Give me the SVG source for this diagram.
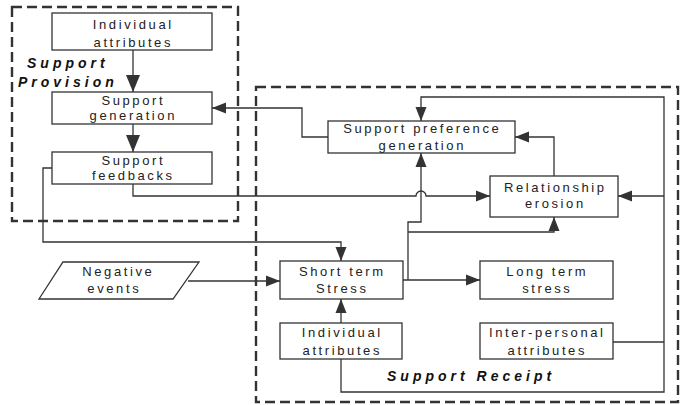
<svg xmlns="http://www.w3.org/2000/svg" width="681" height="405" viewBox="0 0 681 405">
<style>
.bg{fill:#fff}
.box{fill:#fff;stroke:#333;stroke-width:1.3}
.dash{fill:none;stroke:#333;stroke-width:2.4;stroke-dasharray:10 5}
.c{fill:none;stroke:#333;stroke-width:1.3}
.t{font-family:"Liberation Sans",Arial,sans-serif;font-size:13px;letter-spacing:2.6px;fill:#222;text-anchor:middle}
.lbl{font-family:"Liberation Sans",Arial,sans-serif;font-size:14px;font-weight:bold;font-style:italic;letter-spacing:4px;fill:#111}
</style>
<defs>
<marker id="a" markerUnits="userSpaceOnUse" markerWidth="14" markerHeight="12" refX="14" refY="6" orient="auto"><path d="M0,0.5 L14,6 L0,11.5 z" fill="#333"/></marker>
<marker id="b" markerUnits="userSpaceOnUse" markerWidth="17" markerHeight="14" refX="17" refY="7" orient="auto"><path d="M0,0 L17,7 L0,14 z" fill="#333"/></marker>
</defs>
<rect class="bg" x="0" y="0" width="681" height="405"/>
<g id="groups">
<rect class="dash" x="12" y="7" width="226" height="214"/>
<rect class="dash" x="256" y="87" width="422" height="315"/>
<text class="lbl" x="27" y="68">Support</text>
<text class="lbl" x="18" y="87">Provision</text>
<text class="lbl" x="387" y="381">Support Receipt</text>
</g>
<g id="connectors">
<path class="c" d="M133,50 V92" marker-end="url(#b)"/>
<path class="c" d="M133,124 V152" marker-end="url(#b)"/>
<path class="c" d="M328,137 H302 V108 H212" marker-end="url(#a)"/>
<path class="c" d="M52,168 H43 V242 H341 V261" marker-end="url(#a)"/>
<path class="c" d="M133,184 V196 H416 A5,5 0 0 1 426,196 H490" marker-end="url(#a)"/>
<path class="c" d="M341,359 V392 H664 V97 H421 V121" marker-end="url(#a)"/>
<path class="c" d="M613,342 H664"/>
<path class="c" d="M664,196 H618" marker-end="url(#a)"/>
<path class="c" d="M554,176 V137 H515" marker-end="url(#a)"/>
<path class="c" d="M188,281 H280" marker-end="url(#a)"/>
<path class="c" d="M403,280 H480" marker-end="url(#a)"/>
<path class="c" d="M408,280 V222 H421 V153" marker-end="url(#a)"/>
<path class="c" d="M408,232 H554 V217" marker-end="url(#a)"/>
<path class="c" d="M341,323 V299" marker-end="url(#a)"/>
</g>
<g id="n-indiv-top">
<rect class="box" x="52" y="13" width="160" height="37"/>
<text class="t" x="133.3" y="29">Individual</text>
<text class="t" x="133.3" y="47">attributes</text>
</g>
<g id="n-support-gen">
<rect class="box" x="52" y="92" width="160" height="32"/>
<text class="t" x="133.3" y="105">Support</text>
<text class="t" x="133.3" y="120">generation</text>
</g>
<g id="n-support-fb">
<rect class="box" x="52" y="152" width="160" height="32"/>
<text class="t" x="133.3" y="165">Support</text>
<text class="t" x="133.3" y="180">feedbacks</text>
</g>
<g id="n-pref">
<rect class="box" x="328" y="121" width="187" height="32"/>
<text class="t" x="422.3" y="133">Support preference</text>
<text class="t" x="422.3" y="150">generation</text>
</g>
<g id="n-erosion">
<rect class="box" x="490" y="176" width="128" height="41"/>
<text class="t" x="555.3" y="192">Relationship</text>
<text class="t" x="555.3" y="208">erosion</text>
</g>
<g id="n-negative">
<path class="box" d="M63,262 H199 L173,299 H39 z"/>
<text class="t" x="118.3" y="276">Negative</text>
<text class="t" x="114.3" y="293">events</text>
</g>
<g id="n-short">
<rect class="box" x="280" y="261" width="123" height="38"/>
<text class="t" x="342.3" y="276">Short term</text>
<text class="t" x="342.3" y="293">Stress</text>
</g>
<g id="n-long">
<rect class="box" x="480" y="261" width="133" height="38"/>
<text class="t" x="547.3" y="276">Long term</text>
<text class="t" x="547.3" y="293">stress</text>
</g>
<g id="n-indiv-bottom">
<rect class="box" x="280" y="323" width="122" height="36"/>
<text class="t" x="342.3" y="337">Individual</text>
<text class="t" x="342.3" y="355">attributes</text>
</g>
<g id="n-interpersonal">
<rect class="box" x="480" y="323" width="133" height="36"/>
<text class="t" x="547.3" y="337">Inter-personal</text>
<text class="t" x="547.3" y="355">attributes</text>
</g>
</svg>
